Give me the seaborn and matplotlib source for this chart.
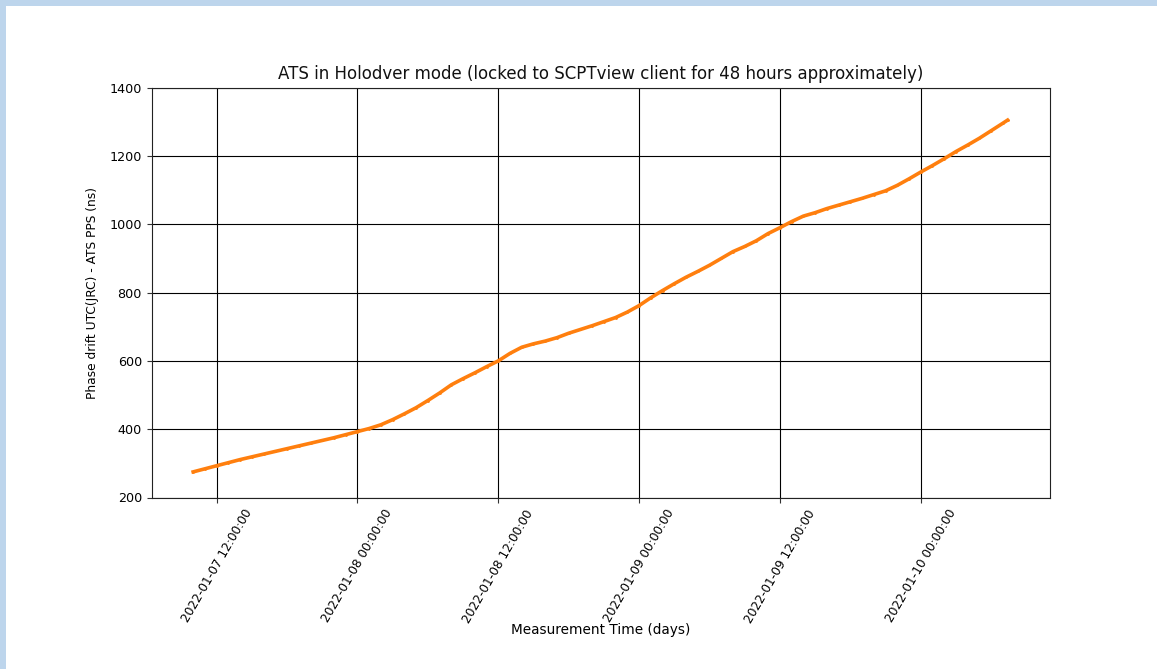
import matplotlib
matplotlib.use("Agg")
import matplotlib.pyplot as plt
import matplotlib.dates as mdates
from matplotlib.patches import Rectangle
import numpy as np
import pandas as pd
import seaborn as sns

# Hourly readings of the phase drift, 2022-01-07 10:00 to 2022-01-10 07:00, plus last sample
drift_ns = [
    275, 284, 293, 302, 311, 319, 327, 335, 343, 351,
    359, 367, 375, 384, 393, 402, 413, 428, 445, 463,
    484, 506, 530, 548, 565, 583, 600, 622, 640, 650,
    658, 668, 681, 692, 703, 715, 727, 743, 762, 785,
    806, 826, 845, 862, 880, 900, 920, 935, 952, 973,
    990, 1008, 1024, 1034, 1046, 1056, 1066, 1076, 1087, 1098,
    1114, 1133, 1153, 1172, 1192, 1213, 1232, 1252, 1274, 1296,
    1305,
]
times = list(pd.date_range("2022-01-07 10:00", "2022-01-10 07:00", freq="h")) + [
    pd.Timestamp("2022-01-10 07:24")
]

df = pd.DataFrame({"time": times, "drift": drift_ns})

title = "ATS in Holodver mode (locked to SCPTview client for 48 hours approximately)"
xlabel = "Measurement Time (days)"
ylabel = "Phase drift UTC(JRC) - ATS PPS (ns)"
y_ticks = [200, 400, 600, 800, 1000, 1200, 1400]

W, H = 1157, 669
fig = plt.figure(figsize=(W / 100, H / 100), dpi=100)
fig.patch.set_facecolor("white")

# light blue page frame along the top and left edges
band = "#bdd5ec"
fig.patches.append(Rectangle((0, 1 - 6 / H), 1, 6 / H, transform=fig.transFigure,
                             facecolor=band, edgecolor="none", zorder=0))
fig.patches.append(Rectangle((0, 0), 6 / W, 1, transform=fig.transFigure,
                             facecolor=band, edgecolor="none", zorder=0))

ax = fig.add_axes([151.7 / W, 1 - 497.5 / H, (1050 - 151.7) / W, (497.5 - 87.7) / H])

sns.lineplot(data=df, x="time", y="drift", ax=ax, color="#ff7f0e",
             linewidth=2.6, marker=".", markersize=4, markeredgewidth=0)

ax.set_ylim(200, 1400)
ax.set_yticks(y_ticks)
ax.set_xlim(pd.Timestamp("2022-01-07 06:28"), pd.Timestamp("2022-01-10 11:01"))
ax.xaxis.set_major_locator(mdates.HourLocator(byhour=[0, 12]))
ax.xaxis.set_major_formatter(mdates.DateFormatter("%Y-%m-%d %H:%M:%S"))
ax.tick_params(axis="x", labelsize=8.7, labelrotation=60)
ax.tick_params(axis="y", labelsize=9.2)
ax.tick_params(color="#333333")

ax.grid(True, color="black", linewidth=0.8)
ax.set_axisbelow(True)
ax.set_title(title, fontsize=12, color="#111111")
ax.set_xlabel(xlabel, fontsize=9.8, labelpad=-1.5)
ax.set_ylabel(ylabel, fontsize=8.8, labelpad=7.5)
for s in ax.spines.values():
    s.set_color("#222222")
    s.set_linewidth(0.8)

fig.savefig("out.png", dpi=100)
